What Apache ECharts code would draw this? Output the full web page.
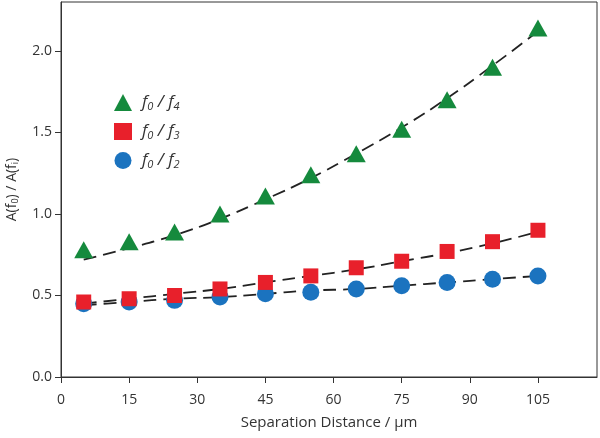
<!DOCTYPE html>
<html><head><meta charset="utf-8">
<script src="https://cdn.jsdelivr.net/npm/echarts@6/dist/echarts.min.js"></script>
<style>html,body{margin:0;padding:0;background:#fff}#c{width:600px;height:438px}</style>
</head><body><div id="c"></div>
<script>
const distances = [5, 15, 25, 35, 45, 55, 65, 75, 85, 95, 105];
const ratioF4 = [0.78, 0.83, 0.89, 1.00, 1.11, 1.24, 1.37, 1.52, 1.70, 1.90, 2.14];
const ratioF3 = [0.46, 0.48, 0.50, 0.54, 0.58, 0.62, 0.67, 0.71, 0.77, 0.83, 0.90];
const ratioF2 = [0.45, 0.46, 0.47, 0.49, 0.51, 0.52, 0.54, 0.56, 0.58, 0.60, 0.62];
const fitF4 = [0.72, 0.79, 0.87, 0.97, 1.09, 1.22, 1.37, 1.53, 1.71, 1.91, 2.12];
const fitF3 = [0.45, 0.48, 0.51, 0.54, 0.58, 0.62, 0.66, 0.71, 0.76, 0.82, 0.89];
const fitF2 = [0.44, 0.46, 0.48, 0.49, 0.51, 0.53, 0.54, 0.56, 0.58, 0.60, 0.62];
const xTicks = [0, 15, 30, 45, 60, 75, 90, 105];
const yTicks = [0, 0.5, 1.0, 1.5, 2.0];

const pairs = ys => distances.map((x, i) => [x, ys[i]]);
const font = '"Open Sans", "Noto Sans", sans-serif';
const axisColor = '#333';

const fitStyle = { color: '#222', width: 1.8, type: [13, 7] };

const chart = echarts.init(document.getElementById('c'));
chart.setOption({
  animation: false,
  grid: { left: 61, right: 3, top: 2, bottom: 61, show: true, borderColor: axisColor, borderWidth: 1, outerBoundsMode: 'none' },
  xAxis: {
    type: 'value', min: 0, max: 118,
    name: 'Separation Distance / µm', nameLocation: 'middle', nameGap: 38,
    nameTextStyle: { fontFamily: font, fontSize: 15, color: '#333' },
    splitLine: { show: false },
    axisLine: { lineStyle: { color: axisColor } },
    axisTick: { customValues: xTicks, length: 6, lineStyle: { color: axisColor } },
    axisLabel: { customValues: xTicks, margin: 16, fontFamily: font, fontSize: 14, color: '#333' }
  },
  yAxis: {
    type: 'value', min: 0, max: 2.3,
    name: 'A(f{s|0}) / A(f{s|i})', nameLocation: 'middle', nameGap: 41,
    nameTextStyle: { fontFamily: font, fontSize: 14, color: '#333',
      rich: { s: { fontFamily: font, fontSize: 9, color: '#333', verticalAlign: 'bottom', padding: [6, 0, 0, 0] } } },
    splitLine: { show: false },
    axisLine: { lineStyle: { color: axisColor } },
    axisTick: { customValues: yTicks, length: 6, lineStyle: { color: axisColor } },
    axisLabel: { customValues: yTicks, margin: 9, fontFamily: font, fontSize: 14, color: '#333',
      formatter: v => v.toFixed(1) }
  },
  legend: {
    orient: 'vertical', left: 109, top: 89, itemGap: 11, itemWidth: 18, itemHeight: 17,
    data: [
      { name: 'f0/f4', icon: 'triangle' },
      { name: 'f0/f3', icon: 'rect' },
      { name: 'f0/f2', icon: 'circle' }
    ],
    formatter: n => 'f{s|' + n[1] + '} / f{s|' + n[4] + '}',
    textStyle: { fontFamily: font, fontStyle: 'italic', fontSize: 17, color: '#333', padding: [0, 0, 0, 5],
      rich: { s: { fontFamily: font, fontStyle: 'italic', fontSize: 11, color: '#333', verticalAlign: 'bottom', padding: [8, 0, 0, 0] } } }
  },
  series: [
    { name: 'fit4', type: 'line', data: pairs(fitF4), smooth: true, showSymbol: false, lineStyle: fitStyle, z: 1 },
    { name: 'fit3', type: 'line', data: pairs(fitF3), smooth: true, showSymbol: false, lineStyle: fitStyle, z: 1 },
    { name: 'fit2', type: 'line', data: pairs(fitF2), smooth: true, showSymbol: false, lineStyle: fitStyle, z: 1 },
    { name: 'f0/f2', type: 'scatter', data: pairs(ratioF2), symbol: 'circle', symbolSize: 17, itemStyle: { color: '#1b73bf', opacity: 1 }, z: 2 },
    { name: 'f0/f3', type: 'scatter', data: pairs(ratioF3), symbol: 'rect', symbolSize: 15, itemStyle: { color: '#e8202b', opacity: 1 }, z: 3 },
    { name: 'f0/f4', type: 'scatter', data: pairs(ratioF4), symbol: 'triangle', symbolSize: [19, 17], itemStyle: { color: '#158a3d', opacity: 1 }, z: 4 }
  ]
});
</script></body></html>
